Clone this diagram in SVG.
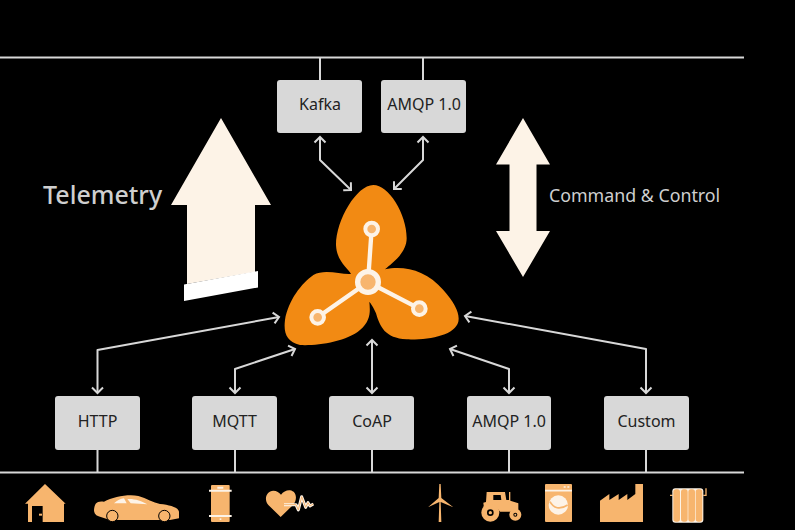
<svg xmlns="http://www.w3.org/2000/svg" width="795" height="530" viewBox="0 0 795 530">
<defs>
<marker id="chev" viewBox="-7 -7 14 14" markerWidth="14" markerHeight="14" markerUnits="userSpaceOnUse" refX="0" refY="0" orient="auto-start-reverse">
<path d="M-5.500,-5.500 L0,0 L-5.500,5.500" fill="none" stroke="#d8d8d8" stroke-width="2"/>
</marker>
</defs>
<style>
.box{fill:#d8d8d8}
.lbl{font-family:"Noto Sans","Open Sans","DejaVu Sans",sans-serif;font-size:16px;fill:#222;text-anchor:middle}
.bus{stroke:#d8d8d8;stroke-width:2;fill:none}
.link{stroke:#d8d8d8;stroke-width:2;fill:none;stroke-linejoin:round;marker-start:url(#chev);marker-end:url(#chev)}
.big{fill:#fdf3e7}
.head{font-family:"Noto Sans","Open Sans","DejaVu Sans",sans-serif;fill:#cfcfcf}
.ic{fill:#f7b56e}
.w{fill:#fdf3e7}
.wl{stroke:#fdf3e7;fill:none}
</style>
<rect width="795" height="530" fill="#000"/>
<g id="connectors">
<path class="bus" d="M0,57.500H744M0,472.500H744M320,57V80M423,57V80M97.500,450V472M235,450V472M372,450V472M509,450V472M646,450V472"/>
<path class="link" d="M320,137V160L351,190"/>
<path class="link" d="M423,137V160L394,189"/>
<path class="link" d="M97.500,393V350L279,317"/>
<path class="link" d="M235,393V369L295,349"/>
<path class="link" d="M372,393V340"/>
<path class="link" d="M509,393V369L450,349"/>
<path class="link" d="M646,393V349L465,316"/>
</g>
<g id="kafka"><rect class="box" x="277" y="80" width="85" height="53" rx="3"/><text class="lbl" x="320" y="110">Kafka</text></g>
<g id="amqp-north"><rect class="box" x="381" y="80" width="85" height="53" rx="3"/><text class="lbl" x="424" y="110">AMQP 1.0</text></g>
<g id="http"><rect class="box" x="55" y="396" width="85" height="54" rx="3"/><text class="lbl" x="97.500" y="427">HTTP</text></g>
<g id="mqtt"><rect class="box" x="192" y="396" width="85" height="54" rx="3"/><text class="lbl" x="234.500" y="427">MQTT</text></g>
<g id="coap"><rect class="box" x="329" y="396" width="85" height="54" rx="3"/><text class="lbl" x="372" y="427">CoAP</text></g>
<g id="amqp-south"><rect class="box" x="467" y="396" width="84" height="54" rx="3"/><text class="lbl" x="509" y="427">AMQP 1.0</text></g>
<g id="custom"><rect class="box" x="604" y="396" width="85" height="54" rx="3"/><text class="lbl" x="646.500" y="427">Custom</text></g>
<g id="telemetry">
<path class="big" d="M221,118L271,205H255V272L187,284V205H171Z"/>
<path fill="#fff" d="M184,284.500L258,271V287.500L184,301Z"/>
<text class="head" x="43" y="204" font-size="25" font-weight="500">Telemetry</text>
</g>
<g id="command-control">
<path class="big" d="M523,118L550,164.500H536.500V231H550L523,277L496,231H509.500V164.500H496Z"/>
<text class="head" x="549" y="202" font-size="17.800">Command &amp; Control</text>
</g>
<g id="hub" transform="translate(270,170) scale(.33333)">
<path fill="#f28a13" d="M310,45C355,45 410,130 410,205C410,250 365,280 345,298C400,285 470,300 520,360C555,400 570,430 565,455C555,495 480,510 410,508C345,505 330,470 318,430C310,410 302,400 298,395C300,420 305,450 270,480C230,515 140,528 90,525C50,515 40,490 45,450C55,390 95,340 130,315C165,295 215,315 243,312C235,295 200,275 198,225C198,150 260,45 310,45Z"/>
<path fill="none" stroke="#fdf3e7" stroke-width="13" d="M305,177L294,336L143,442M294,336L448,416"/>
<circle cx="294" cy="336" r="31" fill="#f7b56e" stroke="#fdf3e7" stroke-width="16"/>
<circle cx="305" cy="177" r="19" fill="#f7b56e" stroke="#fdf3e7" stroke-width="12"/>
<circle cx="143" cy="442" r="19" fill="#f7b56e" stroke="#fdf3e7" stroke-width="12"/>
<circle cx="448" cy="416" r="19" fill="#f7b56e" stroke="#fdf3e7" stroke-width="12"/>
</g>
<g id="devices-left" transform="translate(0,470) scale(.33333)">
<g id="house"><path class="ic" d="M135,42L197,101H192V156H128V108H96V156H84V101H75Z"/><rect class="ic" x="117" y="131" width="9" height="6"/></g>
<g id="car"><path class="ic" d="M282,120C284,100 290,92 312,95C340,80 385,72 415,78C440,85 460,98 480,102C510,105 535,112 537,125V145L510,150H330L300,140C288,138 282,130 282,120Z"/>
<path class="w" d="M342,100C352,90 362,87 372,85L380,100ZM382,87C400,85 425,92 442,103L392,100Z"/>
<circle class="ic" cx="337" cy="138" r="17" stroke="#000" stroke-width="3"/><circle class="ic" cx="493" cy="138" r="17" stroke="#000" stroke-width="3"/></g>
<g id="phone"><rect class="ic" x="633" y="45" width="56" height="111" rx="3"/><path class="wl" stroke-width="6" d="M627,62H695M627,138H695M652,53H670"/><rect class="w" x="659" y="145" width="5" height="5"/></g>
<g id="heart"><path class="ic" d="M842,141L805,105C790,88 800,62 820,62C830,62 838,67 843,74C850,65 860,60 870,61C890,64 893,88 880,104Z"/>
<path class="wl" stroke-width="9" stroke-linejoin="round" d="M852,104H888L895,120L905,80L917,112L924,98L930,108L940,102"/>
<path fill="none" stroke="#f7b56e" stroke-width="3" d="M852,104H888L895,120L905,80L917,112L924,98L930,108L940,102"/></g>
</g>
<g id="devices-right" transform="translate(410,470) scale(.33333)">
<g id="turbine"><path class="ic" d="M88,42H92L94,84L130,112L92,96L94,156H86L88,96L54,112L86,84Z"/></g>
<g id="tractor"><path class="ic" d="M230,66H285L289,90H297V66H301V92L325,100V125H270L262,115H222L220,98L228,96Z"/>
<path fill="#000" d="M250,75H272L274,90H250Z"/>
<circle class="ic" cx="241" cy="128" r="27"/><circle cx="241" cy="128" r="10" fill="#000"/><circle class="ic" cx="241" cy="128" r="5"/>
<circle class="ic" cx="316" cy="134" r="18"/><circle cx="316" cy="134" r="6" fill="#000"/><circle class="ic" cx="316" cy="134" r="3"/></g>
<g id="washer"><rect class="ic" x="405" y="42" width="81" height="114" rx="3"/><path class="wl" stroke-width="5" d="M405,62H486M461,51H467M472,51H478"/><circle class="w" cx="445" cy="105" r="29"/><path fill="none" stroke="#f7b56e" stroke-width="5" d="M420,95C430,115 450,120 473,105"/></g>
<g id="factory"><path class="ic" d="M570,92L598,72V90L626,72V90L652,72V90L676,72V42H699V156H570Z"/></g>
<g id="radiator"><path fill="none" stroke="#f7b56e" stroke-width="4" d="M780,76H788M880,76H888V55"/>
<rect x="787" y="55" width="93" height="103" rx="9" fill="#fdf3e7"/>
<rect class="ic" x="790" y="58" width="20" height="97" rx="8"/><rect class="ic" x="813" y="58" width="20" height="97" rx="8"/><rect class="ic" x="835" y="58" width="20" height="97" rx="8"/><rect class="ic" x="857" y="58" width="20" height="97" rx="8"/></g>
</g>
</svg>
